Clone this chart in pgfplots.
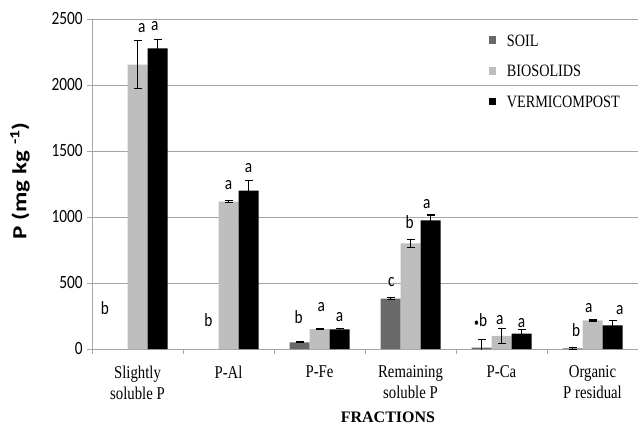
\documentclass[border=0pt]{standalone}
\usepackage{fontspec}
\setmainfont{Liberation Serif}[FakeStretch=0.82]
\newfontfamily\serifN{Liberation Serif}
\newfontfamily\calib{Carlito}[FakeStretch=0.82]
\newfontfamily\calibY{Carlito}[FakeStretch=1.25]
\usepackage{pgfplots}
\usepackage{pgfplotstable}
\pgfplotsset{compat=1.18}
\definecolor{soilc}{RGB}{105,105,105}
\definecolor{bioc}{RGB}{190,190,190}
\definecolor{gridc}{RGB}{165,165,165}

% x: 1 Slightly soluble P, 2 P-Al, 3 P-Fe, 4 Remaining soluble P, 5 P-Ca, 6 Organic P residual
\pgfplotstableread{
x y e
3 50 4
4 381 8
5 10 65
6 5 6
}\soil
\pgfplotstableread{
x y e
1 2155 185
2 1116 8
3 150 5
4 800 30
5 100 58
6 217 5
}\bio
\pgfplotstableread{
x y e
1 2278 70
2 1199 75
3 148 5
4 975 40
5 116 32
6 179 35
}\verm

\begin{document}
\begin{tikzpicture}
\path[use as bounding box] (0,0) rectangle (478.5pt,321pt);
\begin{axis}[
  at={(69pt,59.25pt)}, anchor=south west,
  scale only axis, width=409.5pt, height=247.5pt,
  ybar=0pt, bar width=15pt,
  xmin=0.5, xmax=6.5, ymin=0, ymax=2500,
  ytick={0,500,1000,1500,2000,2500},
  ymajorgrids, grid style={gridc, line width=0.7pt},
  axis x line*=bottom, axis y line*=left,
  axis line style={gridc, line width=0.7pt},
  xtick={0.5,1.5,2.5,3.5,4.5,5.5,6.5}, xticklabels={},
  extra x ticks={1,2,3,4,5,6},
  extra x tick labels={{Slightly\\soluble P},{P-Al},{P-Fe},{Remaining\\soluble P},{P-Ca},{Organic\\P residual}},
  extra x tick style={major tick length=0pt, grid=none},
  tick align=outside, major tick length=3.5pt,
  tick style={gridc, line width=0.7pt},
  x tick label style={font=\fontsize{13.5}{15.75}\selectfont, align=center, anchor=north, yshift=-9pt},
  y tick label style={font=\calib\fontsize{14}{16}\selectfont},
  /pgf/number format/assume math mode=true,
  /pgf/number format/set thousands separator={},
  every axis y label/.style={at={(axis description cs:-0.132,0.51)}, rotate=90, anchor=center},
  ylabel={\calibY\bfseries\fontsize{15}{18}\selectfont P (mg kg \textsuperscript{-1})},
  every axis x label/.style={at={(axis description cs:0.542,0)}, yshift=-51pt, anchor=center},
  xlabel={\serifN\bfseries\fontsize{12}{14}\selectfont FRACTIONS},
  legend style={at={(rel axis cs:0.727,0.963)}, anchor=north west, draw=none, fill=none,
    inner sep=0pt, font=\fontsize{13}{15}\selectfont, row sep=10pt,
    nodes={text height=9pt, text depth=0pt, inner sep=2pt},
    /tikz/every odd column/.append style={column sep=6pt}},
  legend cell align=left,
  legend image code/.code={\fill[#1] (0pt,-2.9pt) rectangle (5.25pt,2.9pt);},
  error bars/error bar style={black, line width=0.8pt},
  error bars/error mark options={rotate=90, black, mark size=3pt, line width=0.8pt},
]
\addplot[fill=soilc, draw=none,
  error bars/.cd, y dir=both, y explicit] table[x=x, y=y, y error=e]{\soil};
\addlegendentry{SOIL}
\addplot[fill=bioc, draw=none,
  error bars/.cd, y dir=both, y explicit] table[x=x, y=y, y error=e]{\bio};
\addlegendentry{BIOSOLIDS}
\addplot[fill=black, draw=none,
  error bars/.cd, y dir=both, y explicit] table[x=x, y=y, y error=e]{\verm};
\addlegendentry{VERMICOMPOST}

\begin{scope}[every node/.style={font=\calib\fontsize{14}{16}\selectfont}]
\node at (axis cs:0.643,311) {b};
\node at (axis cs:1.046,2432) {a};
\node at (axis cs:1.19,2447) {a};
\node at (axis cs:1.78,220) {b};
\node at (axis cs:2.0,1242) {a};
\node at (axis cs:2.22,1369) {a};
\node at (axis cs:2.77,245) {b};
\node at (axis cs:3.02,321) {a};
\node at (axis cs:3.22,245) {a};
\node at (axis cs:3.79,510) {c};
\node at (axis cs:3.99,965) {b};
\node at (axis cs:4.18,1098) {a};
\node at (axis cs:4.77,220) {{\fontsize{9}{10}\selectfont •}b};
\node at (axis cs:4.98,220) {a};
\node at (axis cs:5.22,195) {a};
\node at (axis cs:5.82,144) {b};
\node at (axis cs:5.96,308) {a};
\node at (axis cs:6.30,295) {a};
\end{scope}
\end{axis}
\end{tikzpicture}
\end{document}
